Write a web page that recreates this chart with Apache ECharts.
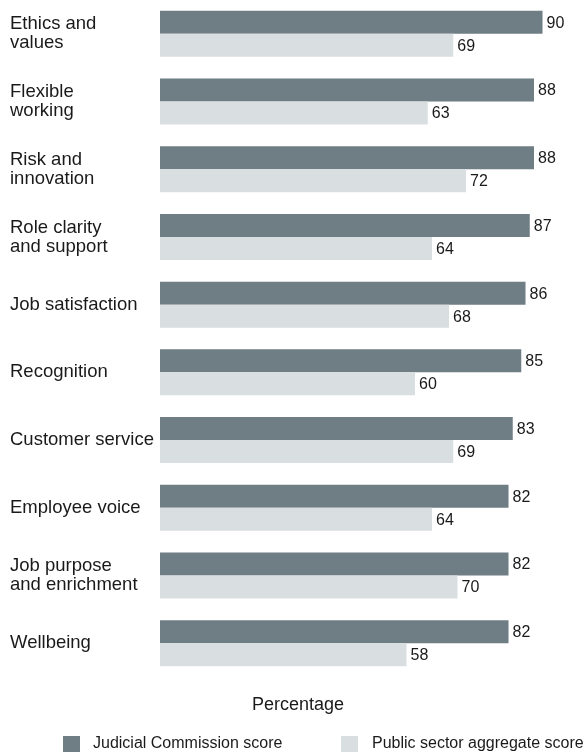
<!DOCTYPE html>
<html>
<head>
<meta charset="utf-8">
<script src="https://cdn.jsdelivr.net/npm/echarts@6/dist/echarts.min.js"></script>
<style>
  html, body { margin: 0; padding: 0; background: #ffffff; }
  #chart { width: 585px; height: 754px; }
</style>
</head>
<body>
<div id="chart"></div>
<script>
// Survey dimensions, top to bottom
const categories = [
  'Ethics and\nvalues',
  'Flexible\nworking',
  'Risk and\ninnovation',
  'Role clarity\nand support',
  'Job satisfaction',
  'Recognition',
  'Customer service',
  'Employee voice',
  'Job purpose\nand enrichment',
  'Wellbeing'
];
const commissionScores = [90, 88, 88, 87, 86, 85, 83, 82, 82, 82];
const publicSectorScores = [69, 63, 72, 64, 68, 60, 69, 64, 70, 58];
const seriesNames = ['Judicial Commission score', 'Public sector aggregate score'];
const axisTitle = 'Percentage';

const FONT = '"Liberation Sans", Arial, Helvetica, sans-serif';
const DARK = '#6f7d84';
const LIGHT = '#d9dee1';
const TEXT = '#1a1a1a';

const chart = echarts.init(document.getElementById('chart'), null, { renderer: 'canvas' });

const valueLabel = {
  show: true,
  position: 'right',
  distance: 4,
  offset: [0, 1],
  color: TEXT,
  fontSize: 16,
  fontFamily: FONT
};

chart.setOption({
  animation: false,
  backgroundColor: '#ffffff',
  textStyle: { fontFamily: FONT },
  title: {
    text: axisTitle,
    left: 252,
    top: 696,
    padding: 0,
    textStyle: { fontSize: 18, fontWeight: 'normal', color: TEXT, fontFamily: FONT }
  },
  legend: [
    {
      data: [seriesNames[0]],
      left: 63,
      top: 736,
      padding: 0,
      itemWidth: 17,
      itemHeight: 16,
      icon: 'rect',
      textStyle: { fontSize: 16, color: TEXT, fontFamily: FONT, padding: [0, 0, 0, 8] }
    },
    {
      data: [seriesNames[1]],
      left: 341,
      top: 736,
      padding: 0,
      itemWidth: 17,
      itemHeight: 16,
      icon: 'rect',
      textStyle: { fontSize: 16, color: TEXT, fontFamily: FONT, padding: [0, 0, 0, 9] }
    }
  ],
  grid: { left: 160, right: 0, top: -4, height: 681, containLabel: false },
  xAxis: {
    type: 'value',
    min: 0,
    max: 100,
    show: false
  },
  yAxis: {
    type: 'category',
    data: categories,
    inverse: true,
    axisLine: { show: false },
    axisTick: { show: false },
    splitLine: { show: false },
    axisLabel: {
      align: 'left',
      margin: 150,
      color: TEXT,
      fontSize: 18.5,
      lineHeight: 19,
      fontFamily: FONT,
      padding: [4, 0, 0, 0]
    }
  },
  series: [
    {
      name: seriesNames[0],
      type: 'bar',
      data: commissionScores,
      barWidth: 23,
      barGap: '0%',
      itemStyle: { color: DARK },
      label: valueLabel
    },
    {
      name: seriesNames[1],
      type: 'bar',
      data: publicSectorScores,
      barWidth: 23,
      barGap: '0%',
      itemStyle: { color: LIGHT },
      label: valueLabel
    }
  ]
});
</script>
</body>
</html>
